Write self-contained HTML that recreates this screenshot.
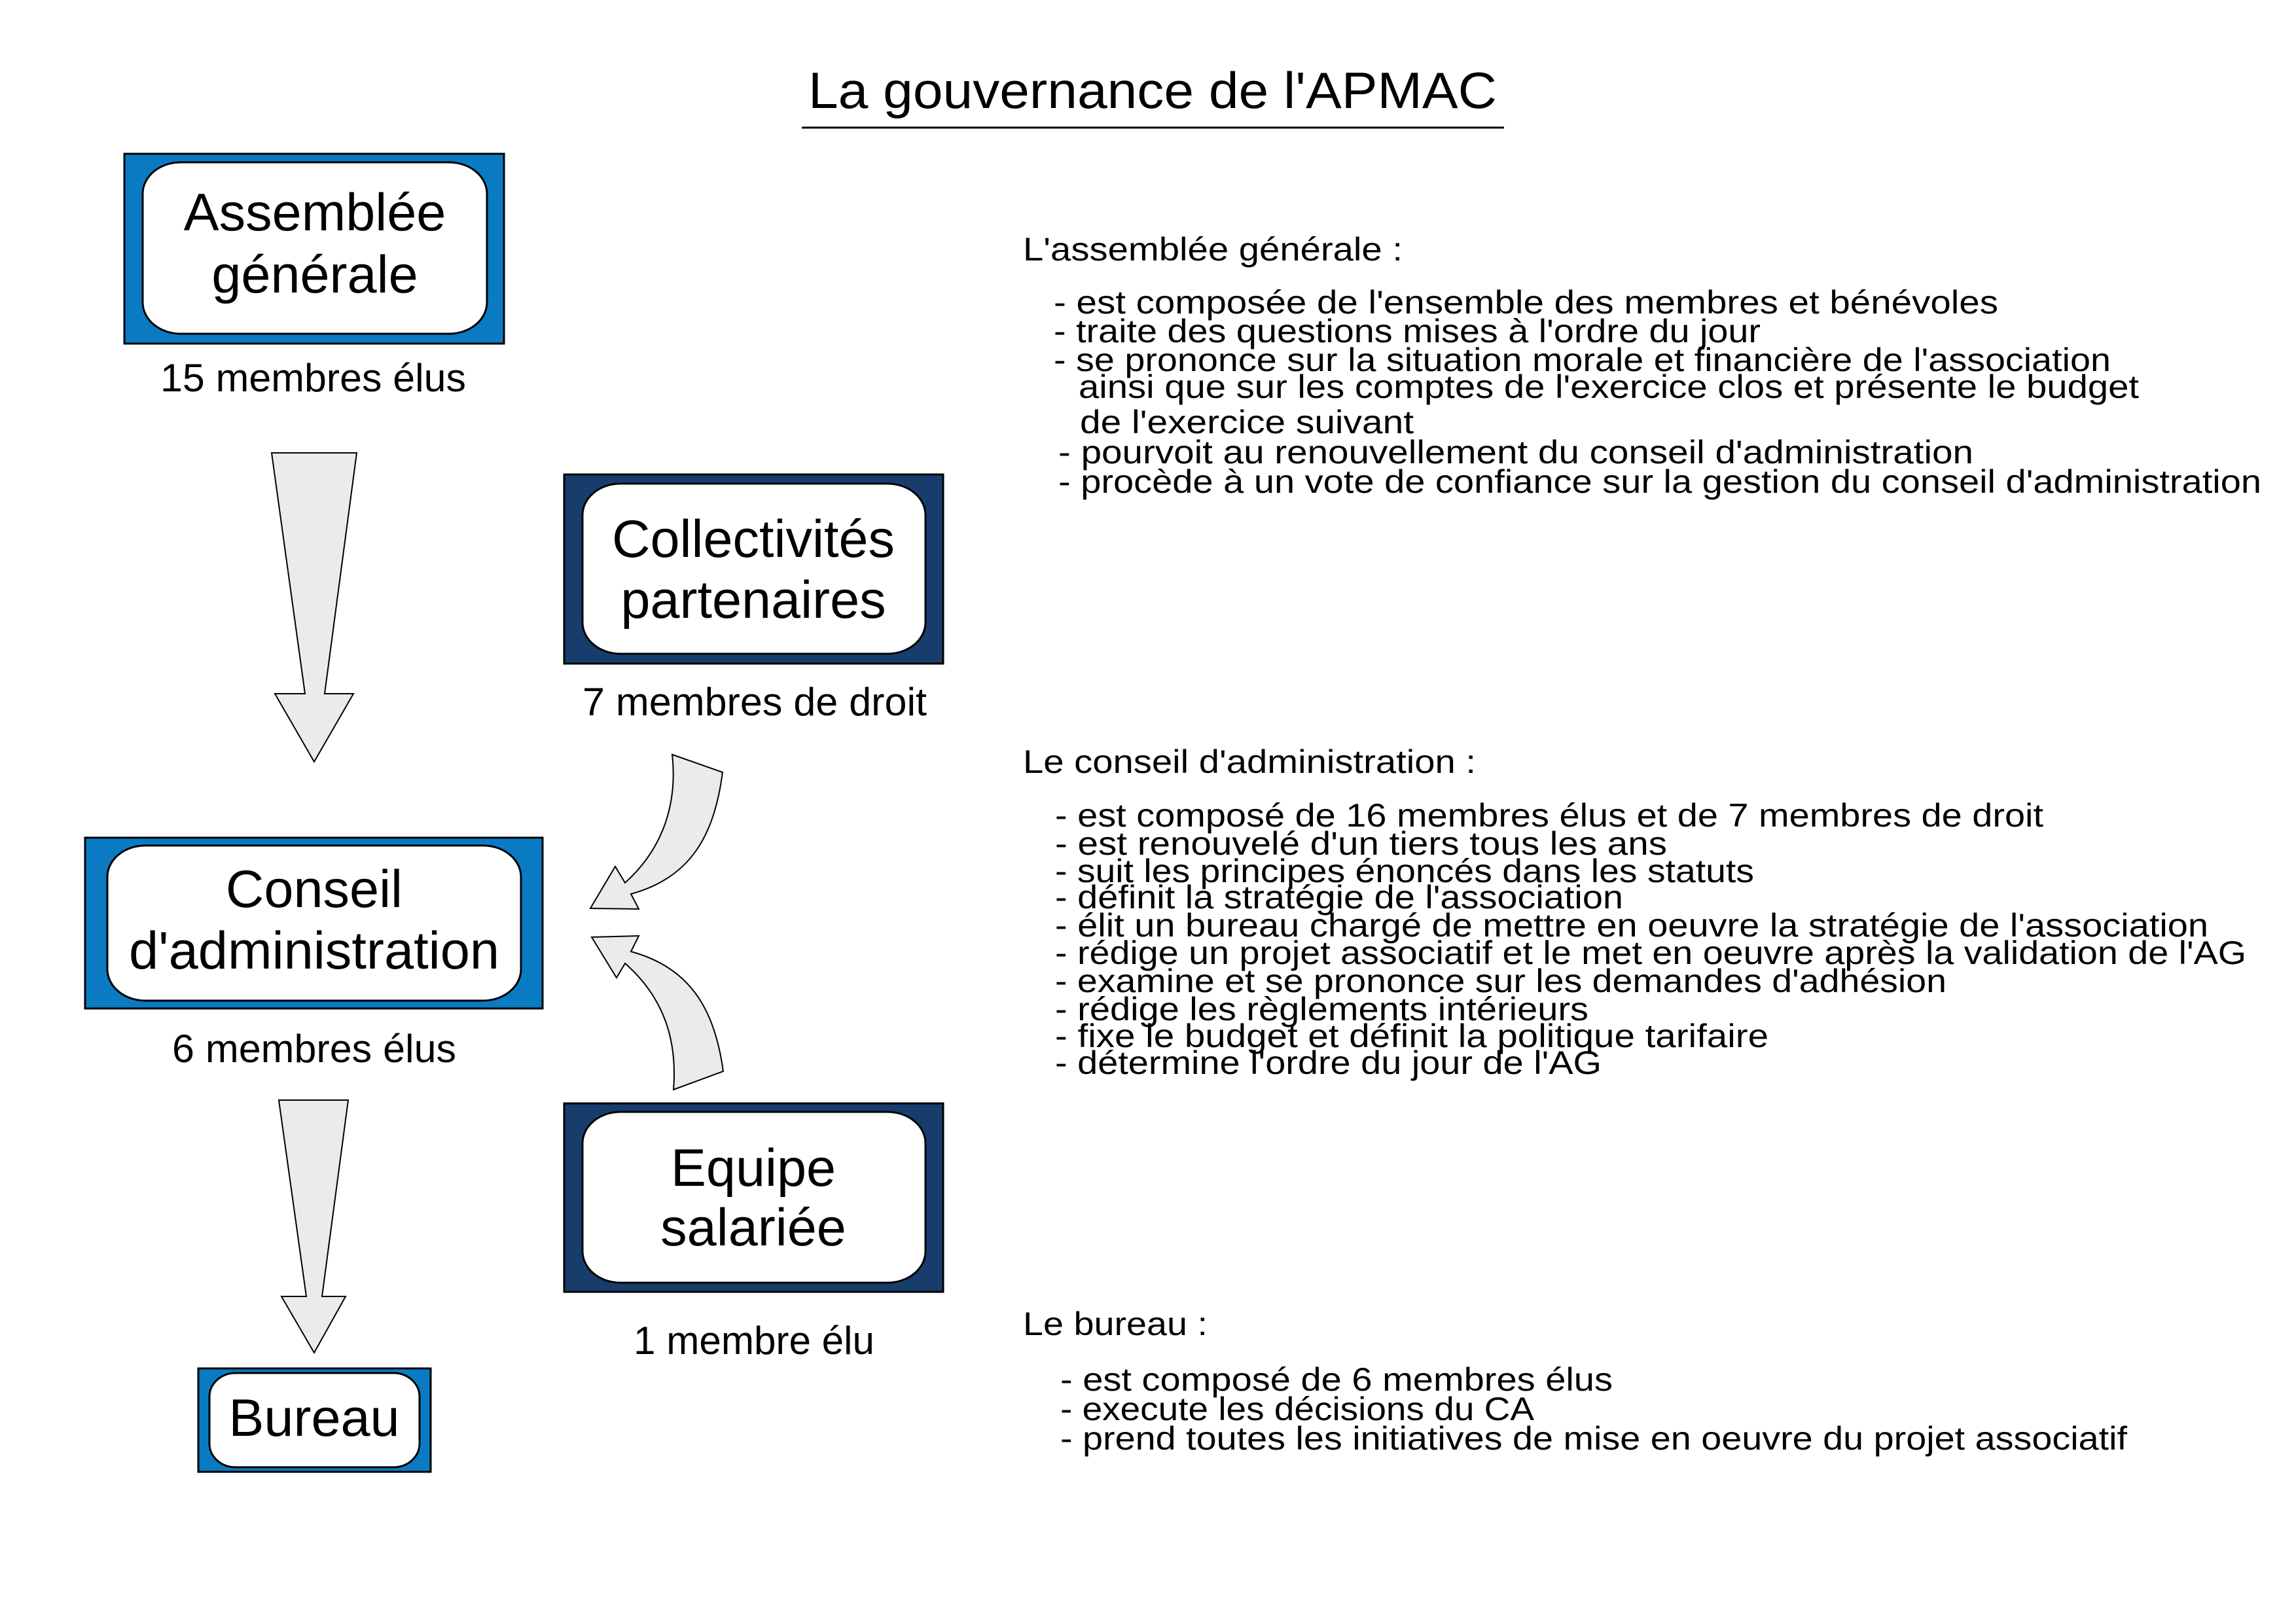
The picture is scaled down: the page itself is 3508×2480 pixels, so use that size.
<!DOCTYPE html>
<html><head><meta charset="utf-8"><style>html,body{margin:0;padding:0;background:#fff}svg{display:block}</style></head>
<body>
<svg width="3508" height="2480" viewBox="0 0 3508 2480" xmlns="http://www.w3.org/2000/svg" font-family="Liberation Sans, Arial, sans-serif">
<rect width="3508" height="2480" fill="#fff"/>
<!-- Title -->
<text x="1235" y="165" font-size="78" textLength="1052" lengthAdjust="spacingAndGlyphs">La gouvernance de l'APMAC</text>
<line x1="1225" y1="195" x2="2298" y2="195" stroke="#000" stroke-width="3"/>

<!-- AG box -->
<rect x="190" y="235" width="580" height="290" fill="#0a7bc2" stroke="#000" stroke-width="3"/>
<rect x="218" y="248" width="526" height="262" rx="58" ry="48" fill="#fff" stroke="#000" stroke-width="3"/>
<text x="481" y="352" font-size="81" text-anchor="middle">Assemblée</text>
<text x="481" y="447" font-size="81" text-anchor="middle">générale</text>
<text x="245" y="598" font-size="60" textLength="467" lengthAdjust="spacingAndGlyphs">15 membres élus</text>

<!-- Collectivites box -->
<rect x="862" y="725" width="579" height="289" fill="#173d6d" stroke="#000" stroke-width="3"/>
<rect x="890" y="739" width="524" height="260" rx="58" ry="48" fill="#fff" stroke="#000" stroke-width="3"/>
<text x="1151" y="851" font-size="81" text-anchor="middle" textLength="432" lengthAdjust="spacingAndGlyphs">Collectivités</text>
<text x="1151" y="944" font-size="81" text-anchor="middle">partenaires</text>
<text x="890" y="1093" font-size="60" textLength="526" lengthAdjust="spacingAndGlyphs">7 membres de droit</text>

<!-- CA box -->
<rect x="130" y="1280" width="699" height="261" fill="#0a7bc2" stroke="#000" stroke-width="3"/>
<rect x="164" y="1292" width="632" height="237" rx="58" ry="48" fill="#fff" stroke="#000" stroke-width="3"/>
<text x="480" y="1386" font-size="81" text-anchor="middle">Conseil</text>
<text x="480" y="1480" font-size="81" text-anchor="middle" textLength="566" lengthAdjust="spacingAndGlyphs">d'administration</text>
<text x="263" y="1623" font-size="60" textLength="434" lengthAdjust="spacingAndGlyphs">6 membres élus</text>

<!-- Equipe box -->
<rect x="862" y="1686" width="579" height="288" fill="#173d6d" stroke="#000" stroke-width="3"/>
<rect x="890" y="1699" width="524" height="261" rx="58" ry="48" fill="#fff" stroke="#000" stroke-width="3"/>
<text x="1151" y="1812" font-size="81" text-anchor="middle">Equipe</text>
<text x="1151" y="1903" font-size="81" text-anchor="middle">salariée</text>
<text x="968" y="2069" font-size="60" textLength="368" lengthAdjust="spacingAndGlyphs">1 membre élu</text>

<!-- Bureau box -->
<rect x="303" y="2091" width="355" height="158" fill="#0a7bc2" stroke="#000" stroke-width="3"/>
<rect x="320" y="2098" width="321" height="144" rx="40" ry="36" fill="#fff" stroke="#000" stroke-width="3"/>
<text x="480" y="2194" font-size="81" text-anchor="middle">Bureau</text>

<!-- Straight arrows -->
<path d="M415,692 L545,692 L496,1060 L540,1060 L480,1164 L420,1060 L466,1060 Z" fill="#ebebeb" stroke="#000" stroke-width="2"/>
<path d="M426,1681 L532,1681 L492,1981 L528,1981 L480,2067 L430,1981 L468,1981 Z" fill="#ebebeb" stroke="#000" stroke-width="2"/>

<!-- Curved arrows -->
<path d="M1027,1153 L1104,1180 C1092,1270 1060,1340 964,1366 L976,1389 L902,1388 L940,1324 L955,1349 C1015,1295 1035,1225 1027,1153 Z" fill="#ebebeb" stroke="#000" stroke-width="2"/>
<path d="M1029,1665 L1105,1637 C1093,1550 1060,1480 964,1454 L976,1430 L904,1432 L942,1494 L955,1472 C1015,1525 1035,1590 1029,1665 Z" fill="#ebebeb" stroke="#000" stroke-width="2"/>

<!-- Right text -->
<g font-size="50" lengthAdjust="spacingAndGlyphs">
<text x="1563" y="398" textLength="580" lengthAdjust="spacingAndGlyphs">L'assemblée générale :</text>
<text x="1610" y="479" textLength="1443" lengthAdjust="spacingAndGlyphs">- est composée de l'ensemble des membres et bénévoles</text>
<text x="1610" y="523" textLength="1080" lengthAdjust="spacingAndGlyphs">- traite des questions mises à l'ordre du jour</text>
<text x="1610" y="567" textLength="1615" lengthAdjust="spacingAndGlyphs">- se prononce sur la situation morale et financière de l'association</text>
<text x="1648" y="608" textLength="1620" lengthAdjust="spacingAndGlyphs">ainsi que sur les comptes de l'exercice clos et présente le budget</text>
<text x="1650" y="662" textLength="510" lengthAdjust="spacingAndGlyphs">de l'exercice suivant</text>
<text x="1617" y="708" textLength="1398" lengthAdjust="spacingAndGlyphs">- pourvoit au renouvellement du conseil d'administration</text>
<text x="1617" y="753" textLength="1838" lengthAdjust="spacingAndGlyphs">- procède à un vote de confiance sur la gestion du conseil d'administration</text>

<text x="1563" y="1181" textLength="692" lengthAdjust="spacingAndGlyphs">Le conseil d'administration :</text>
<text x="1612" y="1263" textLength="1510" lengthAdjust="spacingAndGlyphs">- est composé de 16 membres élus et de 7 membres de droit</text>
<text x="1612" y="1306" textLength="935" lengthAdjust="spacingAndGlyphs">- est renouvelé d'un tiers tous les ans</text>
<text x="1612" y="1348" textLength="1068" lengthAdjust="spacingAndGlyphs">- suit les principes énoncés dans les statuts</text>
<text x="1612" y="1388" textLength="868" lengthAdjust="spacingAndGlyphs">- définit la stratégie de l'association</text>
<text x="1612" y="1431" textLength="1762" lengthAdjust="spacingAndGlyphs">- élit un bureau chargé de mettre en oeuvre la stratégie de l'association</text>
<text x="1612" y="1473" textLength="1820" lengthAdjust="spacingAndGlyphs">- rédige un projet associatif et le met en oeuvre après la validation de l'AG</text>
<text x="1612" y="1516" textLength="1362" lengthAdjust="spacingAndGlyphs">- examine et se prononce sur les demandes d'adhésion</text>
<text x="1612" y="1559" textLength="815" lengthAdjust="spacingAndGlyphs">- rédige les règlements intérieurs</text>
<text x="1612" y="1600" textLength="1090" lengthAdjust="spacingAndGlyphs">- fixe le budget et définit la politique tarifaire</text>
<text x="1612" y="1641" textLength="835" lengthAdjust="spacingAndGlyphs">- détermine l'ordre du jour de l'AG</text>

<text x="1563" y="2040" textLength="282" lengthAdjust="spacingAndGlyphs">Le bureau :</text>
<text x="1620" y="2125" textLength="844" lengthAdjust="spacingAndGlyphs">- est composé de 6 membres élus</text>
<text x="1620" y="2170" textLength="724" lengthAdjust="spacingAndGlyphs">- execute les décisions du CA</text>
<text x="1620" y="2215" textLength="1630" lengthAdjust="spacingAndGlyphs">- prend toutes les initiatives de mise en oeuvre du projet associatif</text>
</g>
</svg>
</body></html>
